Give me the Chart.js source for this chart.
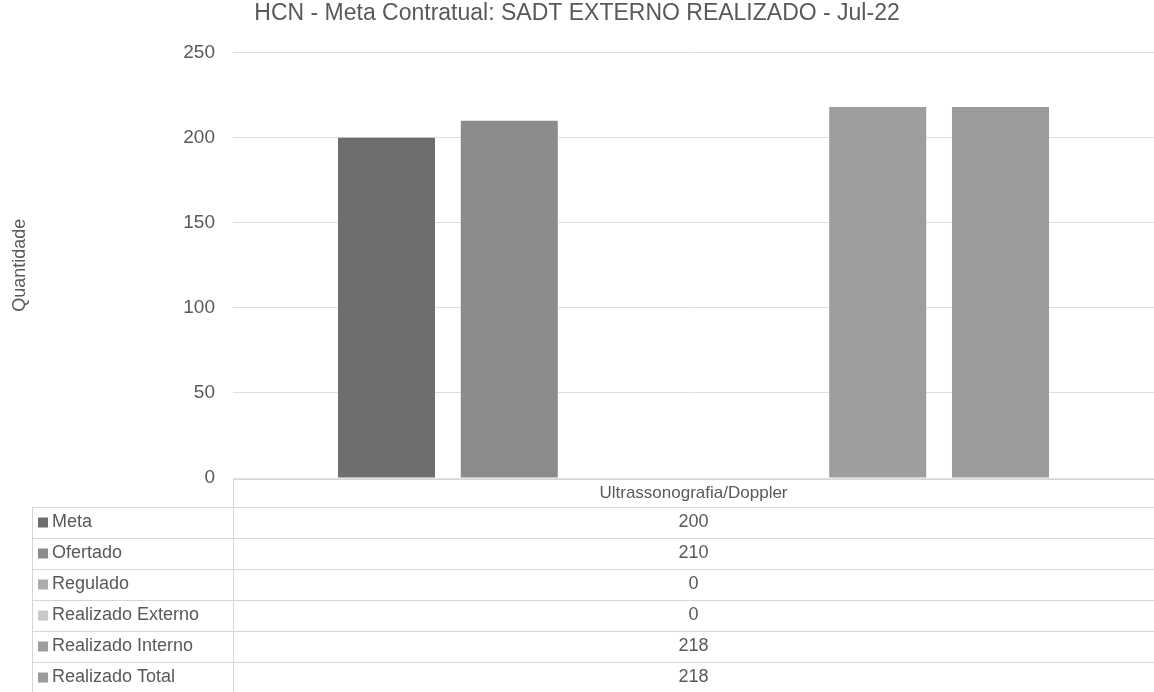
<!DOCTYPE html>
<html>
<head>
<meta charset="utf-8">
<script src="https://cdn.jsdelivr.net/npm/chart.js@4/dist/chart.umd.min.js"></script>
<style>
  html, body { margin: 0; padding: 0; background: #fff; overflow: hidden; }
  #wrap { width: 1154px; height: 692px; }
</style>
</head>
<body>
<div id="wrap"><canvas id="chart" width="1154" height="692"></canvas></div>
<script>
// data
const categories = ["Ultrassonografia/Doppler"];
const seriesNames = ["Meta", "Ofertado", "Regulado", "Realizado Externo", "Realizado Interno", "Realizado Total"];
const meta = [200];
const ofertado = [210];
const regulado = [0];
const realizadoExterno = [0];
const realizadoInterno = [218];
const realizadoTotal = [218];
const yMax = 250;
const yStep = 50;

const seriesValues = [meta, ofertado, regulado, realizadoExterno, realizadoInterno, realizadoTotal];
const colors = ["#6e6e6e", "#8c8c8c", "#acacac", "#c9c9c9", "#9e9e9e", "#9b9b9b"];
const textColor = "#595959";

Chart.defaults.font.family = "'Liberation Sans', Arial, sans-serif";
Chart.defaults.color = textColor;

// data table under the plot (Excel style), built from the same arrays
const dataTable = {
  id: "dataTable",
  afterDraw(chart) {
    const ctx = chart.ctx;
    const area = chart.chartArea;
    const xs = chart.scales.x;
    const top = area.bottom + 1;
    const headerH = 28;
    const rowH = 31;
    const left = 32;
    const right = chart.width;

    ctx.save();
    ctx.strokeStyle = "#d6d6d6";
    ctx.lineWidth = 1;
    ctx.beginPath();
    ctx.moveTo(area.left, top + 0.5);
    ctx.lineTo(right, top + 0.5);
    ctx.moveTo(area.left + 0.5, top);
    ctx.lineTo(area.left + 0.5, chart.height);
    ctx.moveTo(left + 0.5, top + headerH);
    ctx.lineTo(left + 0.5, chart.height);
    for (let i = 0; i <= seriesNames.length; i++) {
      const y = Math.round(top + headerH + i * rowH) + 0.5;
      ctx.moveTo(left, y);
      ctx.lineTo(right, y);
    }
    ctx.stroke();

    ctx.font = "17px 'Liberation Sans', Arial, sans-serif";
    ctx.fillStyle = textColor;
    ctx.textBaseline = "middle";
    ctx.textAlign = "center";
    categories.forEach((c, ci) => {
      const cx = xs.getPixelForValue(ci);
      ctx.fillText(c, cx, top + headerH / 2);
    });

    chart.data.datasets.forEach((ds, i) => {
      const cy = top + headerH + i * rowH + rowH / 2;
      ctx.fillStyle = ds.backgroundColor;
      ctx.fillRect(left + 6, cy - 5, 10, 10);
      ctx.fillStyle = textColor;
      ctx.textAlign = "left";
      ctx.font = "18px 'Liberation Sans', Arial, sans-serif";
      ctx.fillText(ds.label, left + 20, cy);
      ctx.textAlign = "center";
      ds.data.forEach((v, ci) => {
        ctx.fillText(String(v), xs.getPixelForValue(ci), cy);
      });
    });
    ctx.restore();
  }
};

new Chart(document.getElementById("chart"), {
  type: "bar",
  data: {
    labels: categories,
    datasets: seriesNames.map((name, i) => ({
      label: name,
      data: seriesValues[i],
      backgroundColor: colors[i],
      borderWidth: 0,
      categoryPercentage: 0.8,
      barPercentage: 0.79
    }))
  },
  options: {
    responsive: false,
    animation: false,
    layout: { padding: { left: 0, right: 0, top: 0, bottom: 214 } },
    plugins: {
      legend: { display: false },
      tooltip: { enabled: false },
      title: {
        display: true,
        text: "HCN - Meta Contratual: SADT EXTERNO REALIZADO - Jul-22",
        color: textColor,
        font: { size: 23, weight: "normal" },
        padding: { top: 0, bottom: 25 }
      }
    },
    scales: {
      x: { display: false },
      y: {
        min: 0,
        max: yMax,
        ticks: { stepSize: yStep, padding: 18, color: textColor, font: { size: 19 } },
        grid: { color: "#e0e0e0", drawTicks: false },
        border: { display: false },
        title: {
          display: true,
          text: "Quantidade",
          color: textColor,
          font: { size: 18 },
          padding: { top: 9, bottom: 0 }
        },
        afterFit(scale) { scale.width = 233; }
      }
    }
  },
  plugins: [dataTable]
});
</script>
</body>
</html>
